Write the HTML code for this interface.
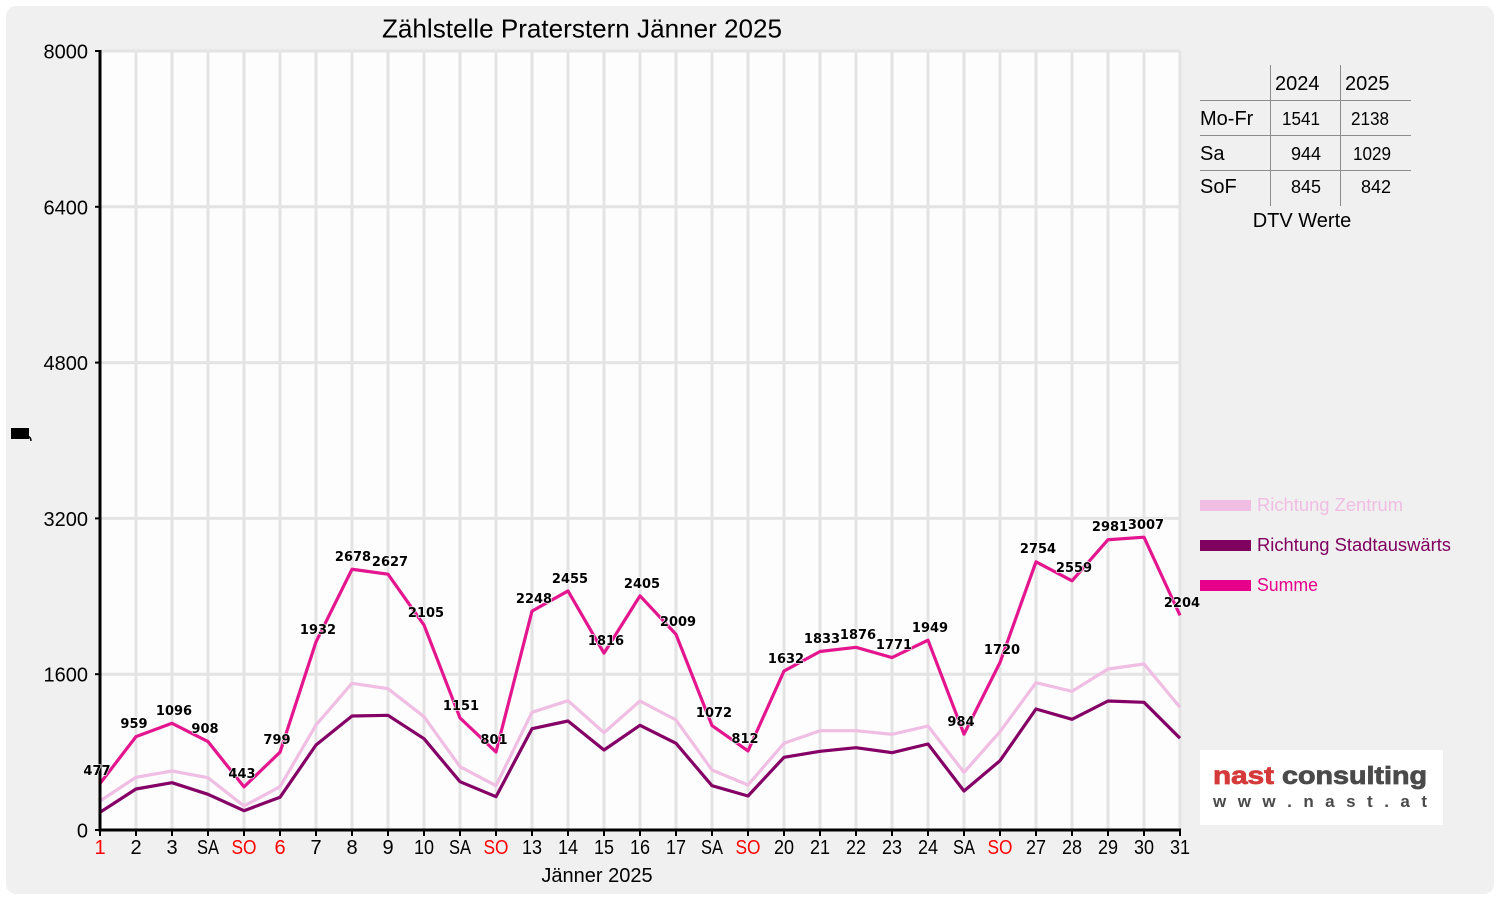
<!DOCTYPE html>
<html><head><meta charset="utf-8"><style>
html,body{margin:0;padding:0;background:#fff;width:1500px;height:900px;overflow:hidden}
svg{display:block}
</style></head><body>
<svg width="1500" height="900" viewBox="0 0 1500 900" xmlns="http://www.w3.org/2000/svg" font-family="'Liberation Sans', sans-serif">
<rect x="6" y="6" width="1488" height="888" rx="10" fill="#f0f0f0"/>
<rect x="100" y="51" width="1080" height="779" fill="#fdfdfd"/>
<g stroke="#e4e4e4" stroke-width="3">
<line x1="100" y1="51" x2="1180" y2="51"/>
<line x1="100" y1="206.8" x2="1180" y2="206.8"/>
<line x1="100" y1="362.6" x2="1180" y2="362.6"/>
<line x1="100" y1="518.4" x2="1180" y2="518.4"/>
<line x1="100" y1="674.2" x2="1180" y2="674.2"/>
<line x1="136" y1="51" x2="136" y2="830"/><line x1="172" y1="51" x2="172" y2="830"/><line x1="208" y1="51" x2="208" y2="830"/><line x1="244" y1="51" x2="244" y2="830"/><line x1="280" y1="51" x2="280" y2="830"/><line x1="316" y1="51" x2="316" y2="830"/><line x1="352" y1="51" x2="352" y2="830"/><line x1="388" y1="51" x2="388" y2="830"/><line x1="424" y1="51" x2="424" y2="830"/><line x1="460" y1="51" x2="460" y2="830"/><line x1="496" y1="51" x2="496" y2="830"/><line x1="532" y1="51" x2="532" y2="830"/><line x1="568" y1="51" x2="568" y2="830"/><line x1="604" y1="51" x2="604" y2="830"/><line x1="640" y1="51" x2="640" y2="830"/><line x1="676" y1="51" x2="676" y2="830"/><line x1="712" y1="51" x2="712" y2="830"/><line x1="748" y1="51" x2="748" y2="830"/><line x1="784" y1="51" x2="784" y2="830"/><line x1="820" y1="51" x2="820" y2="830"/><line x1="856" y1="51" x2="856" y2="830"/><line x1="892" y1="51" x2="892" y2="830"/><line x1="928" y1="51" x2="928" y2="830"/><line x1="964" y1="51" x2="964" y2="830"/><line x1="1000" y1="51" x2="1000" y2="830"/><line x1="1036" y1="51" x2="1036" y2="830"/><line x1="1072" y1="51" x2="1072" y2="830"/><line x1="1108" y1="51" x2="1108" y2="830"/><line x1="1144" y1="51" x2="1144" y2="830"/><line x1="1180" y1="51" x2="1180" y2="830"/>
</g>
<!-- series -->
<polyline fill="none" stroke="#f0bde3" stroke-width="3.2" stroke-linejoin="round" points="100,801 136,777.3 172,771 208,777.7 244,806 280,786.7 316,725 352,683.3 388,688.7 424,716.7 460,766.7 496,785.7 532,712.3 568,700.7 604,732.7 640,701 676,720 712,770 748,785 784,743.3 820,730.7 856,730.7 892,734.3 928,726 964,772.3 1000,731.7 1036,682.7 1072,691.3 1108,669 1144,664 1180,707.3"/>
<polyline fill="none" stroke="#850066" stroke-width="3.2" stroke-linejoin="round" points="100,812.3 136,789 172,782.7 208,794.3 244,810.7 280,797.3 316,745 352,716 388,715.3 424,738.7 460,781.7 496,796.7 532,728.7 568,721 604,750 640,725.3 676,743.3 712,785.7 748,796 784,757.3 820,751.3 856,747.7 892,752.7 928,744 964,791 1000,760.7 1036,709 1072,719.3 1108,701 1144,702.3 1180,738.3"/>
<polyline fill="none" stroke="#e4168f" stroke-width="3.2" stroke-linejoin="round" points="100,783.55 136,736.62 172,723.28 208,741.58 244,786.86 280,752.2 316,641.87 352,569.23 388,574.2 424,625.03 460,717.92 496,752 532,611.1 568,590.94 604,653.17 640,595.81 676,634.37 712,725.61 748,750.93 784,671.08 820,651.51 856,647.32 892,657.55 928,640.22 964,734.18 1000,662.51 1036,561.83 1072,580.82 1108,539.72 1144,537.19 1180,615.39"/>
<!-- axes -->
<g stroke="#000">
<line x1="100" y1="50" x2="100" y2="831.5" stroke-width="3"/>
<line x1="99" y1="830" x2="1181" y2="830" stroke-width="3"/>
<g stroke-width="2">
<line x1="95" y1="51" x2="100" y2="51"/><line x1="95" y1="206.8" x2="100" y2="206.8"/><line x1="95" y1="362.6" x2="100" y2="362.6"/><line x1="95" y1="518.4" x2="100" y2="518.4"/><line x1="95" y1="674.2" x2="100" y2="674.2"/><line x1="95" y1="830" x2="100" y2="830"/>
</g>
<g stroke-width="2">
<line x1="100" y1="830" x2="100" y2="836"/><line x1="136" y1="830" x2="136" y2="836"/><line x1="172" y1="830" x2="172" y2="836"/><line x1="208" y1="830" x2="208" y2="836"/><line x1="244" y1="830" x2="244" y2="836"/><line x1="280" y1="830" x2="280" y2="836"/><line x1="316" y1="830" x2="316" y2="836"/><line x1="352" y1="830" x2="352" y2="836"/><line x1="388" y1="830" x2="388" y2="836"/><line x1="424" y1="830" x2="424" y2="836"/><line x1="460" y1="830" x2="460" y2="836"/><line x1="496" y1="830" x2="496" y2="836"/><line x1="532" y1="830" x2="532" y2="836"/><line x1="568" y1="830" x2="568" y2="836"/><line x1="604" y1="830" x2="604" y2="836"/><line x1="640" y1="830" x2="640" y2="836"/><line x1="676" y1="830" x2="676" y2="836"/><line x1="712" y1="830" x2="712" y2="836"/><line x1="748" y1="830" x2="748" y2="836"/><line x1="784" y1="830" x2="784" y2="836"/><line x1="820" y1="830" x2="820" y2="836"/><line x1="856" y1="830" x2="856" y2="836"/><line x1="892" y1="830" x2="892" y2="836"/><line x1="928" y1="830" x2="928" y2="836"/><line x1="964" y1="830" x2="964" y2="836"/><line x1="1000" y1="830" x2="1000" y2="836"/><line x1="1036" y1="830" x2="1036" y2="836"/><line x1="1072" y1="830" x2="1072" y2="836"/><line x1="1108" y1="830" x2="1108" y2="836"/><line x1="1144" y1="830" x2="1144" y2="836"/><line x1="1180" y1="830" x2="1180" y2="836"/>
</g>
</g>
<!-- y labels -->
<g font-size="20" text-anchor="end" fill="#000">
<text x="88" y="58.5">8000</text>
<text x="88" y="214.3">6400</text>
<text x="88" y="370.1">4800</text>
<text x="88" y="525.9">3200</text>
<text x="88" y="681.7">1600</text>
<text x="88" y="837.5">0</text>
</g>
<rect x="11" y="428" width="18" height="11" fill="#000"/>
<path d="M27,436 Q31,437 31,441" stroke="#000" stroke-width="1.5" fill="none"/>
<!-- x labels -->
<g font-size="20" text-anchor="middle" fill="#000">
<text x="100" y="854" fill="#ff0000">1</text>
<text x="136" y="854">2</text>
<text x="172" y="854">3</text>
<text x="208" y="854" textLength="22" lengthAdjust="spacingAndGlyphs">SA</text>
<text x="244" y="854" fill="#ff0000" textLength="25" lengthAdjust="spacingAndGlyphs">SO</text>
<text x="280" y="854" fill="#ff0000">6</text>
<text x="316" y="854">7</text>
<text x="352" y="854">8</text>
<text x="388" y="854">9</text>
<text x="424" y="854" textLength="20" lengthAdjust="spacingAndGlyphs">10</text>
<text x="460" y="854" textLength="22" lengthAdjust="spacingAndGlyphs">SA</text>
<text x="496" y="854" fill="#ff0000" textLength="25" lengthAdjust="spacingAndGlyphs">SO</text>
<text x="532" y="854" textLength="20" lengthAdjust="spacingAndGlyphs">13</text>
<text x="568" y="854" textLength="20" lengthAdjust="spacingAndGlyphs">14</text>
<text x="604" y="854" textLength="20" lengthAdjust="spacingAndGlyphs">15</text>
<text x="640" y="854" textLength="20" lengthAdjust="spacingAndGlyphs">16</text>
<text x="676" y="854" textLength="20" lengthAdjust="spacingAndGlyphs">17</text>
<text x="712" y="854" textLength="22" lengthAdjust="spacingAndGlyphs">SA</text>
<text x="748" y="854" fill="#ff0000" textLength="25" lengthAdjust="spacingAndGlyphs">SO</text>
<text x="784" y="854" textLength="20" lengthAdjust="spacingAndGlyphs">20</text>
<text x="820" y="854" textLength="20" lengthAdjust="spacingAndGlyphs">21</text>
<text x="856" y="854" textLength="20" lengthAdjust="spacingAndGlyphs">22</text>
<text x="892" y="854" textLength="20" lengthAdjust="spacingAndGlyphs">23</text>
<text x="928" y="854" textLength="20" lengthAdjust="spacingAndGlyphs">24</text>
<text x="964" y="854" textLength="22" lengthAdjust="spacingAndGlyphs">SA</text>
<text x="1000" y="854" fill="#ff0000" textLength="25" lengthAdjust="spacingAndGlyphs">SO</text>
<text x="1036" y="854" textLength="20" lengthAdjust="spacingAndGlyphs">27</text>
<text x="1072" y="854" textLength="20" lengthAdjust="spacingAndGlyphs">28</text>
<text x="1108" y="854" textLength="20" lengthAdjust="spacingAndGlyphs">29</text>
<text x="1144" y="854" textLength="20" lengthAdjust="spacingAndGlyphs">30</text>
<text x="1180" y="854" textLength="20" lengthAdjust="spacingAndGlyphs">31</text>
</g>
<text x="597" y="882" font-size="20" text-anchor="middle" fill="#000">Jänner 2025</text>
<text x="582" y="37.5" font-size="26" text-anchor="middle" fill="#000" textLength="400" lengthAdjust="spacingAndGlyphs">Zählstelle Praterstern Jänner 2025</text>
<!-- data labels -->
<g font-family="'DejaVu Sans', sans-serif" font-weight="bold" font-size="13" text-anchor="middle" fill="#000" stroke="#fff" stroke-width="1.2" paint-order="stroke" stroke-linejoin="round">
<text x="97" y="775">477</text>
<text x="134" y="728">959</text>
<text x="174" y="715">1096</text>
<text x="205" y="733">908</text>
<text x="242" y="778">443</text>
<text x="277" y="744">799</text>
<text x="318" y="634">1932</text>
<text x="353" y="561">2678</text>
<text x="390" y="566">2627</text>
<text x="426" y="617">2105</text>
<text x="461" y="710">1151</text>
<text x="494" y="744">801</text>
<text x="534" y="603">2248</text>
<text x="570" y="583">2455</text>
<text x="606" y="645">1816</text>
<text x="642" y="588">2405</text>
<text x="678" y="626">2009</text>
<text x="714" y="717">1072</text>
<text x="745" y="743">812</text>
<text x="786" y="663">1632</text>
<text x="822" y="643">1833</text>
<text x="858" y="639">1876</text>
<text x="894" y="649">1771</text>
<text x="930" y="632">1949</text>
<text x="961" y="726">984</text>
<text x="1002" y="654">1720</text>
<text x="1038" y="553">2754</text>
<text x="1074" y="572">2559</text>
<text x="1110" y="531">2981</text>
<text x="1146" y="529">3007</text>
<text x="1182" y="607">2204</text>
</g>
<!-- DTV table -->
<g stroke="#8c8c8c" stroke-width="1">
<line x1="1270.5" y1="65" x2="1270.5" y2="206"/>
<line x1="1340.5" y1="65" x2="1340.5" y2="206"/>
<line x1="1200" y1="100.5" x2="1411" y2="100.5"/>
<line x1="1200" y1="135.5" x2="1411" y2="135.5"/>
<line x1="1200" y1="170.5" x2="1411" y2="170.5"/>
</g>
<g fill="#000">
<text x="1275" y="90" font-size="20">2024</text>
<text x="1345" y="90" font-size="20">2025</text>
<text x="1200" y="125" font-size="20">Mo-Fr</text>
<text x="1200" y="160" font-size="20">Sa</text>
<text x="1200" y="193" font-size="20">SoF</text>
<g font-size="18" text-anchor="end">
<text x="1320" y="125" textLength="38" lengthAdjust="spacingAndGlyphs">1541</text><text x="1389" y="125" textLength="38" lengthAdjust="spacingAndGlyphs">2138</text>
<text x="1321" y="160">944</text><text x="1391" y="160" textLength="38" lengthAdjust="spacingAndGlyphs">1029</text>
<text x="1321" y="193">845</text><text x="1391" y="193">842</text>
</g>
<text x="1302" y="227" font-size="20" text-anchor="middle">DTV Werte</text>
</g>
<!-- legend -->
<rect x="1200" y="500" width="51" height="11" fill="#f0bde3"/>
<text x="1257" y="511" font-size="18" fill="#f0bde3" textLength="146" lengthAdjust="spacingAndGlyphs">Richtung Zentrum</text>
<rect x="1200" y="540" width="51" height="11" fill="#800060"/>
<text x="1257" y="551" font-size="18" fill="#800060" textLength="194" lengthAdjust="spacingAndGlyphs">Richtung Stadtauswärts</text>
<rect x="1200" y="580" width="51" height="11" fill="#e6008c"/>
<text x="1257" y="591" font-size="18" fill="#e6008c" textLength="61" lengthAdjust="spacingAndGlyphs">Summe</text>
<!-- logo -->
<rect x="1200" y="750" width="243" height="75" fill="#ffffff"/>
<text x="1213" y="784" font-size="25" font-weight="bold" fill="#d43a3a" stroke="#d43a3a" stroke-width="0.8" textLength="61" lengthAdjust="spacingAndGlyphs">nast</text>
<text x="1282" y="784" font-size="25" font-weight="bold" fill="#4a4a4a" stroke="#4a4a4a" stroke-width="0.8" textLength="145" lengthAdjust="spacingAndGlyphs">consulting</text>
<text x="1213" y="807" font-size="17" font-weight="bold" fill="#4a4a4a" textLength="214" lengthAdjust="spacing">w w w . n a s t . a t</text>
</svg>
</body></html>
